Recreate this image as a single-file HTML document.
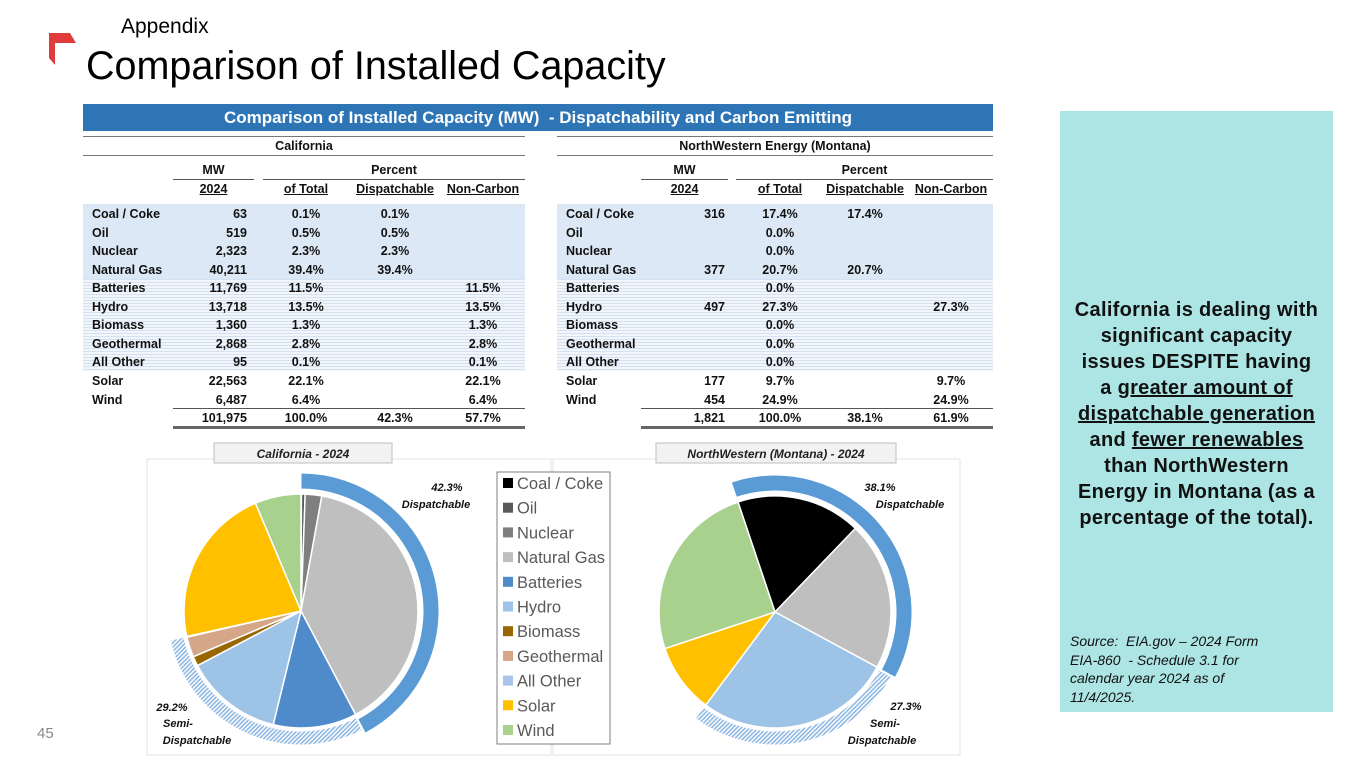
<!DOCTYPE html>
<html><head><meta charset="utf-8"><style>
body{margin:0;width:1365px;height:768px;overflow:hidden;background:#fff;font-family:"Liberation Sans",sans-serif;position:relative}
.a{position:absolute}
.t{position:absolute;font-weight:bold;font-size:12.5px;line-height:16px;color:#111;white-space:nowrap}
.hl{position:absolute;height:0;border-top:1.3px solid #555}
</style></head><body>
<svg class="a" style="left:0;top:0" width="100" height="80"><polygon points="49,33 70,33 76,43 55,43 55,65 49,58" fill="#e03c3c"/></svg>
<div class="a" style="left:121px;top:15px;font-size:21px">Appendix</div>
<div class="a" style="left:86px;top:44px;font-size:39.5px;color:#000">Comparison of Installed Capacity</div>
<div class="a" style="left:83px;top:104px;width:910px;height:27px;background:#2e75b6;color:#fff;font-weight:bold;font-size:17px;line-height:27px;text-align:center">Comparison of Installed Capacity (MW)&nbsp; - Dispatchability and Carbon Emitting</div>
<div id="tables"></div>
<div class="a" style="left:1060px;top:111px;width:273px;height:601px;background:#ade5e5"></div>
<div class="a" style="left:1060px;top:297px;width:273px;text-align:center;font-weight:bold;font-size:20px;line-height:26px;letter-spacing:0.3px;color:#111">California is dealing with<br>significant capacity<br>issues DESPITE having<br>a <u>greater amount of</u><br><u>dispatchable generation</u><br>and <u>fewer renewables</u><br>than NorthWestern<br>Energy in Montana (as a<br>percentage of the total).</div>
<div class="a" style="left:1070px;top:632px;width:250px;font-style:italic;font-size:14px;line-height:18.5px;color:#111">Source:&nbsp; EIA.gov – 2024 Form<br>EIA-860&nbsp; - Schedule 3.1 for<br>calendar year 2024 as of<br>11/4/2025.</div>
<div class="a" style="left:37px;top:725px;font-size:15px;color:#888">45</div>
<svg id="pies" class="a" style="left:0;top:0" width="1365" height="768">
<defs><pattern id="hatch" width="3" height="3" patternUnits="userSpaceOnUse" patternTransform="rotate(45)"><rect width="3" height="3" fill="#fff"/><rect width="1.6" height="3" fill="#8fb8e2"/></pattern></defs>
</svg>
<script>
const categories=["Coal / Coke","Oil","Nuclear","Natural Gas","Batteries","Hydro","Biomass","Geothermal","All Other","Solar","Wind"];
const caMW=[63,519,2323,40211,11769,13718,1360,2868,95,22563,6487];
const caTotalPct=["0.1%","0.5%","2.3%","39.4%","11.5%","13.5%","1.3%","2.8%","0.1%","22.1%","6.4%"];
const caDispPct=["0.1%","0.5%","2.3%","39.4%","","","","","","",""];
const caNonCarbonPct=["","","","","11.5%","13.5%","1.3%","2.8%","0.1%","22.1%","6.4%"];
const caTotals=["101,975","100.0%","42.3%","57.7%"];
const mtMW=[316,0,0,377,0,497,0,0,0,177,454];
const mtTotalPct=["17.4%","0.0%","0.0%","20.7%","0.0%","27.3%","0.0%","0.0%","0.0%","9.7%","24.9%"];
const mtDispPct=["17.4%","","","20.7%","","","","","","",""];
const mtNonCarbonPct=["","","","","","27.3%","","","","9.7%","24.9%"];
const mtTotals=["1,821","100.0%","38.1%","61.9%"];
const caRing=[42.3,29.2];
const mtRing=[38.1,27.3];
const colors=["#000000","#595959","#7f7f7f","#bfbfbf","#4f8bcb","#9dc3e6","#996600","#d6a689","#a9c4e8","#ffc000","#a9d18e"];

const T=document.getElementById('tables');
function div(cls,name,style,txt){const d=document.createElement('div');d.className=cls;


d.style.cssText=style;if(txt!==undefined)d.innerHTML=txt;T.appendChild(d);return d;}
function fmt(v){return v?v.toLocaleString('en-US'):'';}
function table(x0,x1,title,mwL,mwR,pL,cMW,cT,cD,cN,mw,tp,dp,np,tot,key){
  div('hl',key+'-top-line',`left:${x0}px;top:136px;width:${x1-x0}px;border-color:#777`);
  div('t',key+'-title',`left:${x0}px;top:138px;width:${x1-x0}px;text-align:center`,title);
  div('hl',key+'-title-line',`left:${x0}px;top:155px;width:${x1-x0}px;border-color:#777`);
  div('t',key+'-mw-head',`left:${mwL}px;top:162px;width:${mwR-mwL}px;text-align:center`,'MW');
  div('t',key+'-percent-head',`left:${pL}px;top:162px;width:${x1-pL}px;text-align:center`,'Percent');
  div('hl',key+'-mw-line',`left:${mwL}px;top:179px;width:${mwR-mwL}px`);
  div('hl',key+'-pct-line',`left:${pL}px;top:179px;width:${x1-pL}px`);
  [['2024',(mwL+mwR)/2],['of Total',cT],['Dispatchable',cD],['Non-Carbon',cN]].forEach(h=>{
    div('t',key+'-col-head',`left:${h[1]-60}px;top:181px;width:120px;text-align:center;text-decoration:underline`,h[0]);});
  div('a',key+'-dispatch-bg',`left:${x0}px;top:204px;width:${x1-x0}px;height:75px;background:#dce8f5`);
  div('a',key+'-semi-bg',`left:${x0}px;top:279px;width:${x1-x0}px;height:92px;background:repeating-linear-gradient(#d3e2f2 0 1px,#f2f6fb 1px 3px)`);
  categories.forEach((c,i)=>{const y=206+i*18.55;
    div('t',key+'-row-label',`left:${x0+9}px;top:${y}px`,c);
    div('t',key+'-row-mw',`left:${cMW-60}px;top:${y}px;width:60px;text-align:right`,fmt(mw[i]));
    div('t',key+'-row-total',`left:${cT-40}px;top:${y}px;width:80px;text-align:center`,tp[i]);
    div('t',key+'-row-disp',`left:${cD-40}px;top:${y}px;width:80px;text-align:center`,dp[i]);
    div('t',key+'-row-noncarbon',`left:${cN-40}px;top:${y}px;width:80px;text-align:center`,np[i]);});
  div('hl',key+'-total-line',`left:${mwL}px;top:408px;width:${x1-mwL}px`);
  const y=410;
  div('t',key+'-total-mw',`left:${cMW-60}px;top:${y}px;width:60px;text-align:right`,tot[0]);
  div('t',key+'-total-pct',`left:${cT-40}px;top:${y}px;width:80px;text-align:center`,tot[1]);
  div('t',key+'-total-disp',`left:${cD-40}px;top:${y}px;width:80px;text-align:center`,tot[2]);
  div('t',key+'-total-noncarbon',`left:${cN-40}px;top:${y}px;width:80px;text-align:center`,tot[3]);
  div('a',key+'-double-line',`left:${mwL}px;top:426px;width:${x1-mwL}px;height:3px;background:#666`);
}
table(83,525,'California',173,254,263,247,306,395,483,caMW,caTotalPct,caDispPct,caNonCarbonPct,caTotals,'ca');
table(557,993,'NorthWestern Energy (Montana)',641,728,736,725,780,865,951,mtMW,mtTotalPct,mtDispPct,mtNonCarbonPct,mtTotals,'mt');

const S=document.getElementById('pies');const NS='http://www.w3.org/2000/svg';
function el(tag,attrs,txt){const e=document.createElementNS(NS,tag);for(const k in attrs)e.setAttribute(k,attrs[k]);if(txt!==undefined)e.textContent=txt;S.appendChild(e);return e;}
function pt(cx,cy,r,deg){const a=(deg-90)*Math.PI/180;return [cx+r*Math.cos(a),cy+r*Math.sin(a)];}
function slice(cx,cy,r,a0,a1){const p0=pt(cx,cy,r,a0),p1=pt(cx,cy,r,a1);const lg=a1-a0>180?1:0;
return `M${cx},${cy}L${p0[0]},${p0[1]}A${r},${r} 0 ${lg} 1 ${p1[0]},${p1[1]}Z`;}
function ring(cx,cy,r0,r1,a0,a1){const p0=pt(cx,cy,r1,a0),p1=pt(cx,cy,r1,a1),q1=pt(cx,cy,r0,a1),q0=pt(cx,cy,r0,a0);const lg=a1-a0>180?1:0;
return `M${p0[0]},${p0[1]}A${r1},${r1} 0 ${lg} 1 ${p1[0]},${p1[1]}L${q1[0]},${q1[1]}A${r0},${r0} 0 ${lg} 0 ${q0[0]},${q0[1]}Z`;}
function panel(x,y,w,h,name){const r=el('rect',{x,y,width:w,height:h,fill:'#fff',stroke:'#e3e3e3'});

}
function titleBox(x,y,w,txt,name){const r=el('rect',{x,y,width:w,height:20,fill:'#f2f2f2',stroke:'#bfbfbf'});


el('text',{x:x+w/2,y:y+15,'text-anchor':'middle','font-size':12,'font-weight':'bold','font-style':'italic',fill:'#222'},txt);}
function pie(cx,cy,r,start,vals,ringVals,key){
  const tot=vals.reduce((a,b)=>a+b,0);let a=start;
  vals.forEach((v,i)=>{if(!v)return;const a1=a+v/tot*360;
    const p=el('path',{d:slice(cx,cy,r,a,a1),fill:colors[i],stroke:'#fff','stroke-width':1.5});
    
    
    a=a1;});
  const d1=start+ringVals[0]/100*360,d2=d1+ringVals[1]/100*360;
  const rg=el('path',{d:ring(cx,cy,r+5,r+21,start,d1),fill:'#5b9bd5',stroke:'#fff'});
  
  
  const sr=el('path',{d:ring(cx,cy,r+3,r+17,d1+0.5,d2),fill:'url(#hatch)',stroke:'#fff'});
  
  
}
function lbl(x,y,txt,anchor){el('text',{x,y,'text-anchor':anchor||'middle','font-size':11,'font-weight':'bold','font-style':'italic',fill:'#111'},txt);}
panel(147,459,404,296,'california-pie-panel');
panel(553,459,407,296,'montana-pie-panel');
titleBox(214,443,178,'California - 2024','california-pie-title');
titleBox(656,443,240,'NorthWestern (Montana) - 2024','montana-pie-title');
pie(301,611,117,0,caMW,caRing,'ca');
pie(775,612,116,-18.6,mtMW,mtRing,'mt');
lbl(447,491,caRing[0].toFixed(1)+'%');lbl(436,508,'Dispatchable');
lbl(172,711,caRing[1].toFixed(1)+'%');lbl(178,727,'Semi-');lbl(197,744,'Dispatchable');
lbl(880,491,mtRing[0].toFixed(1)+'%');lbl(910,508,'Dispatchable');
lbl(906,710,mtRing[1].toFixed(1)+'%');lbl(885,727,'Semi-');lbl(882,744,'Dispatchable');
const lg=el('rect',{x:497,y:472,width:113,height:272,fill:'#fff',stroke:'#7f7f7f'});


categories.forEach((c,i)=>{const y=483+i*24.7;
  const s=el('rect',{x:503,y:y-5,width:10,height:10,fill:colors[i]});
  
  
  const t=el('text',{x:517,y:y+6,'font-size':16.5,fill:'#595959'},c);
  
  });
</script>
</body></html>
